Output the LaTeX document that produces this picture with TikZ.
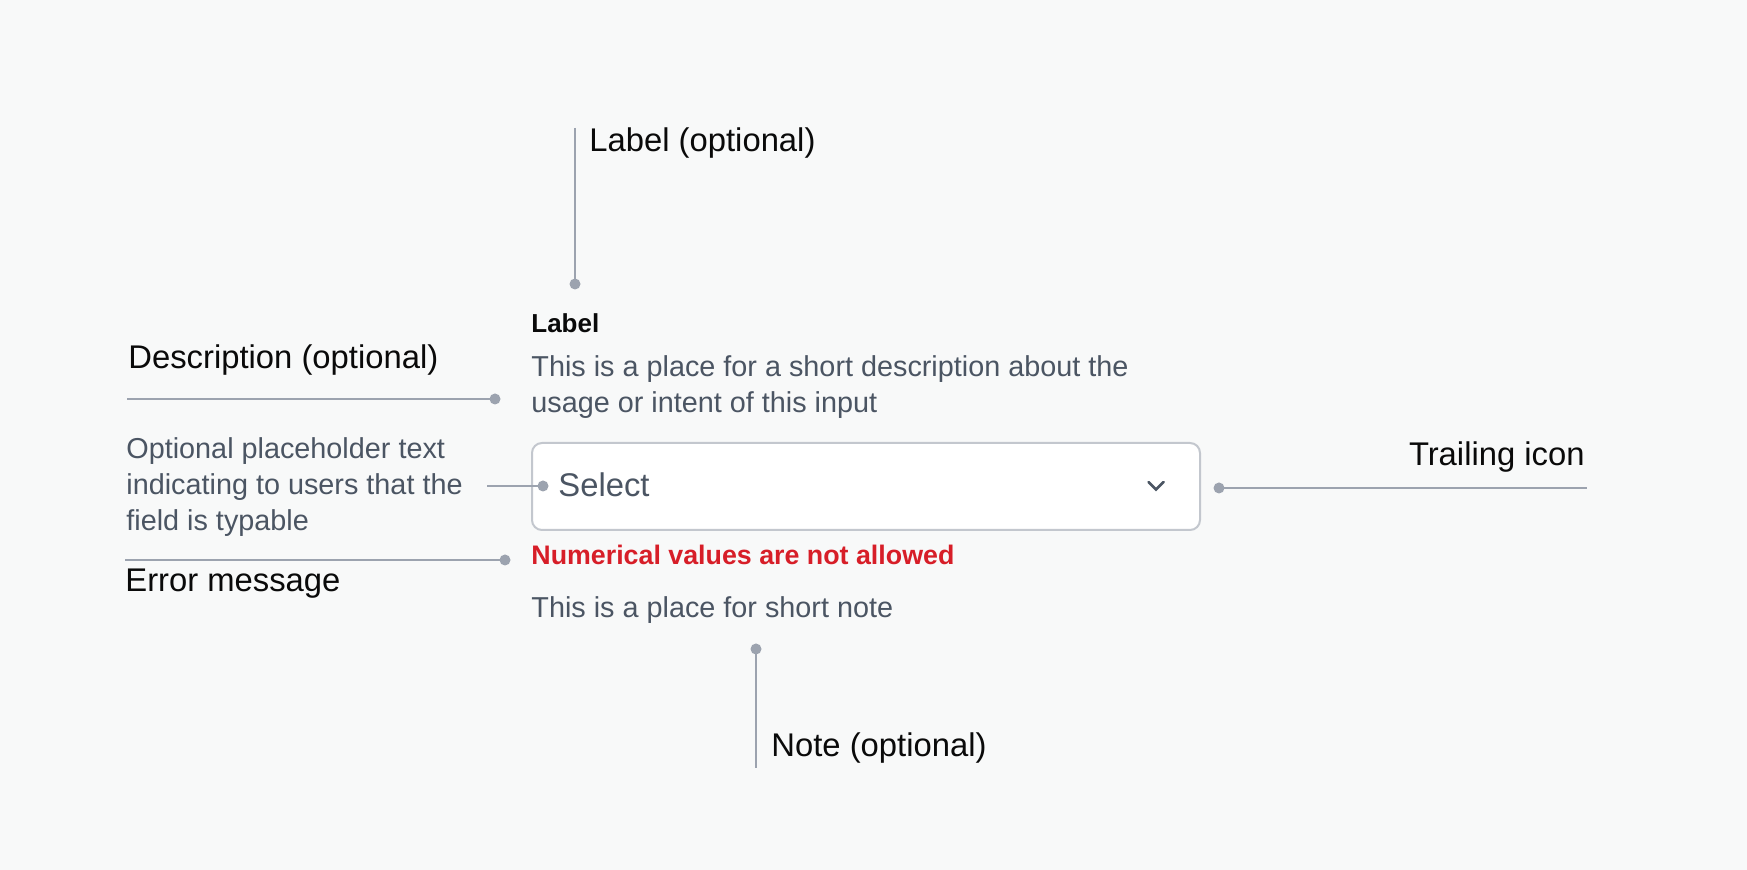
\documentclass[tikz,border=0pt]{standalone}
\usepackage{fontspec}
\setmainfont{Liberation Sans}
\definecolor{bgc}{HTML}{F8F9F9}
\definecolor{leadc}{HTML}{9CA3AF}
\definecolor{boxc}{HTML}{C3C7CE}
\definecolor{txtgray}{HTML}{4B5563}
\definecolor{errred}{HTML}{D71E28}
\definecolor{annot}{HTML}{0A0A0A}
\tikzset{
  lead/.style={draw=leadc, line width=1pt},
  dotnode/.style={circle, fill=leadc, inner sep=0pt, minimum size=5.5pt},
  annottext/.style={inner sep=0pt, text=annot, font=\fontsize{16.4}{20}\selectfont},
  graytext/.style={inner sep=0pt, text=txtgray, font=\fontsize{14.4}{18}\selectfont},
  fieldbox/.style={draw=boxc, line width=1pt, fill=white, rounded corners=5pt},
}
\begin{document}
\begin{tikzpicture}[x=0.5pt,y=-0.5pt]
\fill[bgc] (0,0) rectangle (1747,870);
\useasboundingbox (0,0) rectangle (1747,870);

% field box
\node[fieldbox, minimum width=334pt, minimum height=43.5pt, anchor=north west, inner sep=0pt] (field) at (531,442) {};
\node[inner sep=0pt, anchor=base west, text=txtgray, font=\fontsize{16.4}{20}\selectfont] (select) at (558,497) {Select};
\draw[draw=txtgray, line width=1.4pt, line cap=round, line join=miter] (1148.5,482) -- (1156,489.5) -- (1163.5,482);

% texts of the field
\node[inner sep=0pt, anchor=base west, text=annot, font=\fontsize{13}{16}\selectfont\bfseries] (lbl) at (531,333) {Label};
\node[graytext, anchor=base west] (desc1) at (531,377) {This is a place for a short description about the};
\node[graytext, anchor=base west] (desc2) at (531,413) {usage or intent of this input};
\node[inner sep=0pt, anchor=base west, text=errred, font=\fontsize{13.4}{16}\selectfont\bfseries] (err) at (531,565) {Numerical values are not allowed};
\node[graytext, anchor=base west] (note) at (531,618) {This is a place for short note};

% Label (optional)
\node[annottext, anchor=base west] (labelopt) at (589,152) {Label (optional)};
\coordinate (labeltop) at (575,128);
\node[dotnode] (labeldot) at (575,284) {};
\draw[lead] (labeltop) -- (labeldot.center);

% Description (optional)
\node[annottext, anchor=base west] (descopt) at (128,369) {Description (optional)};
\coordinate (descend) at (127,399);
\node[dotnode] (descdot) at (495,399) {};
\draw[lead] (descend) -- (descdot.center);

% Placeholder
\node[graytext, anchor=base west] (ph1) at (126,459) {Optional placeholder text};
\node[graytext, anchor=base west] (ph2) at (126,495) {indicating to users that the};
\node[graytext, anchor=base west] (ph3) at (126,531) {field is typable};
\coordinate (phend) at (487,486);
\node[dotnode] (phdot) at (543,486) {};
\draw[lead] (phend) -- (phdot.center);

% Trailing icon
\node[annottext, anchor=base east] (trail) at (1585,466) {Trailing icon};
\node[dotnode] (traildot) at (1219,488) {};
\coordinate (trailend) at (1587,488);
\draw[lead] (traildot.center) -- (trailend);

% Error message
\node[annottext, anchor=base west] (errmsg) at (125,592) {Error message};
\coordinate (errend) at (125,560);
\node[dotnode] (errdot) at (505,560) {};
\draw[lead] (errend) -- (errdot.center);

% Note (optional)
\node[dotnode] (notedot) at (756,649) {};
\coordinate (noteend) at (756,768);
\draw[lead] (notedot.center) -- (noteend);
\node[annottext, anchor=base west] (noteopt) at (771,757) {Note (optional)};
\end{tikzpicture}
\end{document}
